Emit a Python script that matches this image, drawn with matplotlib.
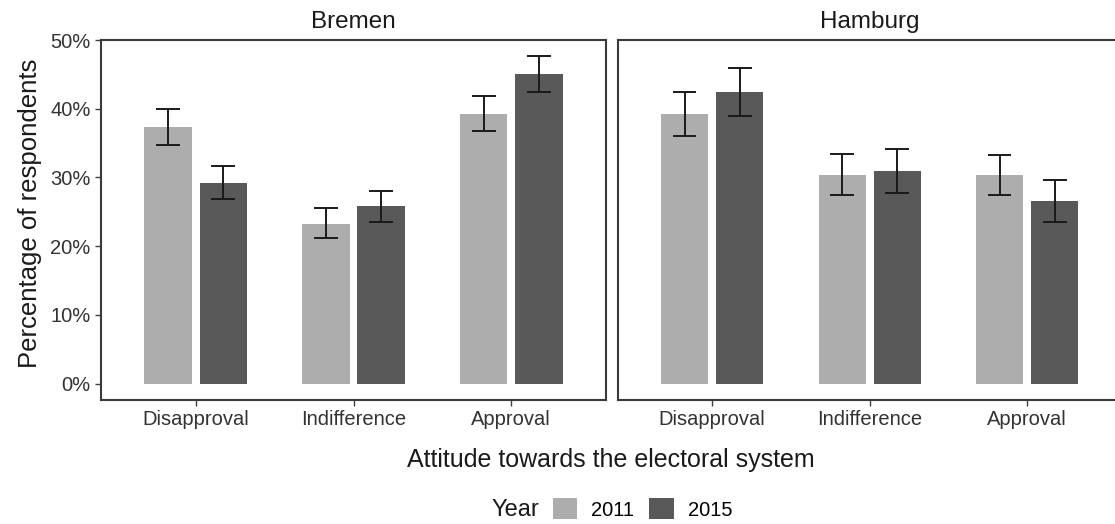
import numpy as np
import matplotlib
matplotlib.use("Agg")
import matplotlib.pyplot as plt
from matplotlib.patches import Patch

plt.rcParams["font.family"] = ["Liberation Sans", "DejaVu Sans"]

# survey shares (%) with 95% confidence bounds
attitudes = ["Disapproval", "Indifference", "Approval"]
years = ["2011", "2015"]
cities = ["Bremen", "Hamburg"]

bremen_2011 = [37.3, 23.3, 39.3]
bremen_2011_lo = [34.8, 21.2, 36.8]
bremen_2011_hi = [39.9, 25.6, 41.9]
bremen_2015 = [29.2, 25.8, 45.0]
bremen_2015_lo = [26.8, 23.5, 42.4]
bremen_2015_hi = [31.7, 28.1, 47.7]

hamburg_2011 = [39.3, 30.4, 30.3]
hamburg_2011_lo = [36.1, 27.5, 27.4]
hamburg_2011_hi = [42.5, 33.4, 33.3]
hamburg_2015 = [42.5, 30.9, 26.6]
hamburg_2015_lo = [39.0, 27.7, 23.5]
hamburg_2015_hi = [46.0, 34.2, 29.7]

data = {
    "Bremen": [
        (bremen_2011, bremen_2011_lo, bremen_2011_hi),
        (bremen_2015, bremen_2015_lo, bremen_2015_hi),
    ],
    "Hamburg": [
        (hamburg_2011, hamburg_2011_lo, hamburg_2011_hi),
        (hamburg_2015, hamburg_2015_lo, hamburg_2015_hi),
    ],
}

fill_colors = ["#adadad", "#595959"]
frame_color = "#3a3a3a"
tick_color = "#404040"

W, H = 1115, 524
fig = plt.figure(figsize=(W / 100, H / 100), dpi=100)


def px_axes(left, top, right, bottom):
    return fig.add_axes([left / W, 1 - bottom / H, (right - left) / W, (bottom - top) / H])


panels = [px_axes(101, 39.5, 606, 400), px_axes(617.7, 39.5, 1121.7, 400)]

x = np.arange(1, len(attitudes) + 1)
bar_w = 0.3
offset = 0.175
cap = 0.075

for ax, city in zip(panels, cities):
    for j, (vals, lo, hi) in enumerate(data[city]):
        xs = x + (j - 0.5) * 2 * offset
        ax.bar(xs, vals, width=bar_w, color=fill_colors[j], zorder=2)
        ax.vlines(xs, lo, hi, color="#1a1a1a", lw=1.4, zorder=3)
        ax.hlines(lo, xs - cap, xs + cap, color="#1a1a1a", lw=1.4, zorder=3)
        ax.hlines(hi, xs - cap, xs + cap, color="#1a1a1a", lw=1.4, zorder=3)

    ax.set_xlim(0.4, 3.6)
    ax.set_ylim(-2.385, 50.085)
    ax.set_xticks(x)
    ax.set_xticklabels(attitudes)
    ax.set_yticks(np.arange(0, 51, 10))
    ax.set_yticklabels([f"{v}%" for v in range(0, 51, 10)])
    ax.tick_params(axis="both", length=4.5, width=1.0, color=tick_color,
                   labelsize=14.5, labelcolor="#333333", pad=3)
    ax.tick_params(axis="x", pad=3)
    for s in ax.spines.values():
        s.set_color(frame_color)
        s.set_linewidth(1.5)
    ax.set_title(city, fontsize=17.5, color="#1a1a1a", pad=8)

panels[1].tick_params(axis="y", left=False, labelleft=False)

fig.text(30 / W, 1 - 213 / H, "Percentage of respondents", rotation=90,
         ha="center", va="center", fontsize=18.5, color="#1a1a1a")
fig.text(611 / W, 1 - 460 / H, "Attitude towards the electoral system",
         ha="center", va="center", fontsize=18, color="#1a1a1a")

fig.text(515.5 / W, 1 - 510 / H, "Year", ha="center", va="center",
         fontsize=17, color="#1a1a1a")
handles = [Patch(facecolor=c, edgecolor="none", label=y) for c, y in zip(fill_colors, years)]
fig.legend(handles=handles, loc="center left", bbox_to_anchor=(553 / W, 1 - 509 / H),
           ncol=2, frameon=False, fontsize=14.5, handlelength=1.2, handleheight=1.2,
           handletextpad=0.7, columnspacing=0.75, borderaxespad=0, borderpad=0)

fig.savefig("out.png", dpi=100)
